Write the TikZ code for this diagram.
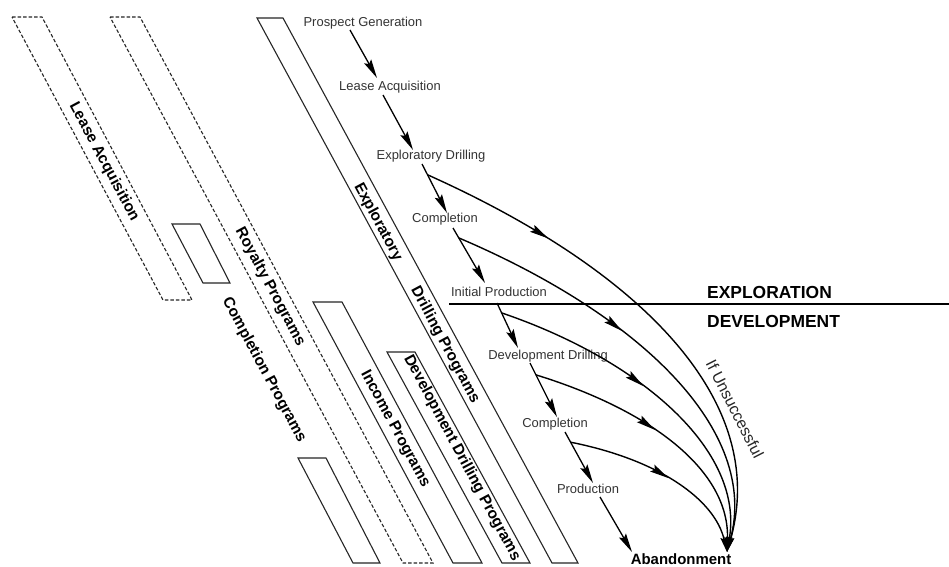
\documentclass[tikz,border=0pt]{standalone}
\usepackage{fontspec}
\setmainfont{Liberation Sans}
\usetikzlibrary{arrows.meta,decorations.markings,calc}
\begin{document}
\begin{tikzpicture}[x=1bp,y=-1bp,
  box/.style={draw=black!85,line width=1.1bp,line join=miter},
  dbox/.style={box,dash pattern=on 3.5bp off 2bp},
  blabel/.style={font=\fontsize{15.5}{18}\selectfont\bfseries,rotate=-61.8,inner sep=0pt},
  flabel/.style={font=\fontsize{13}{15}\selectfont,text=black!80,inner sep=1pt},
  hlabel/.style={font=\fontsize{17.5}{20}\selectfont\bfseries,anchor=west,inner sep=0pt},
  flow/.style={line width=1.3bp,-{Stealth[length=19bp,width=8bp,inset=3bp]}},
  fate/.style={line width=1.4bp,-{Stealth[length=15bp,width=6.5bp,inset=2bp]},postaction={decorate},
    decoration={markings,mark=at position #1 with {\arrow{Stealth[length=19bp,width=8bp,inset=3bp]}}}},
]
\useasboundingbox (0,0) rectangle (949,567);
\fill[white] (0,0) rectangle (949,567);

% program bands
\draw[dbox] (12,17) -- (42,17) -- (192,300) -- (163,300) -- cycle;
\draw[dbox] (110,17) -- (140,17) -- (433,563) -- (403,563) -- cycle;
\draw[box] (172,224) -- (200,224) -- (230,283) -- (203,283) -- cycle;
\draw[box] (298,458) -- (326,458) -- (380,563) -- (353,563) -- cycle;
\draw[box] (257,18) -- (283,18) -- (578,563) -- (552,563) -- cycle;
\draw[box] (313,302) -- (342,302) -- (482,563) -- (453,563) -- cycle;
\draw[box] (387,352) -- (415,352) -- (530,563) -- (502,563) -- cycle;

\node[blabel] (lease) at (104,162) {Lease Acquisition};
\node[blabel] (roy) at (270,287) {Royalty Programs};
\node[blabel] (comp) at (264,370) {Completion Programs};
\node[blabel] (expl) at (378,222) {Exploratory};
\node[blabel] (drill) at (445,345) {Drilling Programs};
\node[blabel] (inc) at (395,429) {Income Programs};
\node[blabel] (ddp) at (462,458) {Development Drilling Programs};

% flow labels
\node[flabel] (pg) at (363,23) {Prospect Generation};
\node[flabel] (la) at (390,87) {Lease Acquisition};
\node[flabel] (ed) at (431,156) {Exploratory Drilling};
\node[flabel] (c1) at (445,219) {Completion};
\node[flabel] (ip) at (499,292) {Initial Production};
\node[flabel] (dd) at (548,356) {Development Drilling};
\node[flabel] (c2) at (555,424) {Completion};
\node[flabel] (pr) at (588,489) {Production};
\node[font=\fontsize{15}{17}\selectfont\bfseries,anchor=base,inner sep=0pt] (ab) at (681,564) {Abandonment};

% divider
\draw[line width=2bp] (449,304) -- (949,304);
\node[hlabel] (expx) at (707,292) {EXPLORATION};
\node[hlabel] (devx) at (707,321) {DEVELOPMENT};
\node[font=\fontsize{16}{18}\selectfont,text=black!85,rotate=-63,inner sep=0pt] (unsu) at (735,409) {If Unsuccessful};

% connector end points
\coordinate (pg-out) at ($(pg)+(-13,7)$);
\coordinate (la-in) at ($(la)+(-13,-9)$);
\coordinate (la-out) at ($(la)+(-7,8)$);
\coordinate (ed-in) at ($(ed)+(-18,-6)$);
\coordinate (ed-out) at ($(ed)+(-9,8)$);
\coordinate (c1-in) at ($(c1)+(2,-6)$);
\coordinate (c1-out) at ($(c1)+(8,9)$);
\coordinate (ip-in) at ($(ip)+(-14,-9)$);
\coordinate (ip-out) at ($(ip)+(-2,11)$);
\coordinate (dd-in) at ($(dd)+(-30,-8)$);
\coordinate (dd-out) at ($(dd)+(-18,7)$);
\coordinate (c2-in) at ($(c2)+(2,-7)$);
\coordinate (c2-out) at ($(c2)+(10,8)$);
\coordinate (pr-in) at ($(pr)+(5,-6)$);
\coordinate (pr-out) at ($(pr)+(12,8)$);
\coordinate (ab-in) at ($(ab.base)+(-49,-12)$);
\coordinate (sink) at ($(ab.base)+(46,-12)$);

\draw[flow] (pg-out) -- (la-in);
\draw[flow] (la-out) -- (ed-in);
\draw[flow] (ed-out) -- (c1-in);
\draw[flow] (c1-out) -- (ip-in);
\draw[flow] (ip-out) -- (dd-in);
\draw[flow] (dd-out) -- (c2-in);
\draw[flow] (c2-out) -- (pr-in);
\draw[flow] (pr-out) -- (ab-in);

\path (ed-out) -- (c1-in) coordinate[pos=0.22] (b1);
\path (c1-out) -- (ip-in) coordinate[pos=0.18] (b2);
\path (ip-out) -- (dd-in) coordinate[pos=0.22] (b3);
\path (dd-out) -- (c2-in) coordinate[pos=0.22] (b4);
\path (c2-out) -- (pr-in) coordinate[pos=0.2] (b5);

\draw[fate=0.26] (b1) .. controls (640,270) and (770,400) .. (sink);
\draw[fate=0.42] (b2) .. controls (640,315) and (760,430) .. (sink);
\draw[fate=0.45] (b3) .. controls (640,360) and (745,450) .. (sink);
\draw[fate=0.47] (b4) .. controls (650,410) and (730,470) .. (sink);
\draw[fate=0.52] (b5) .. controls (660,460) and (715,500) .. (sink);
\end{tikzpicture}
\end{document}
